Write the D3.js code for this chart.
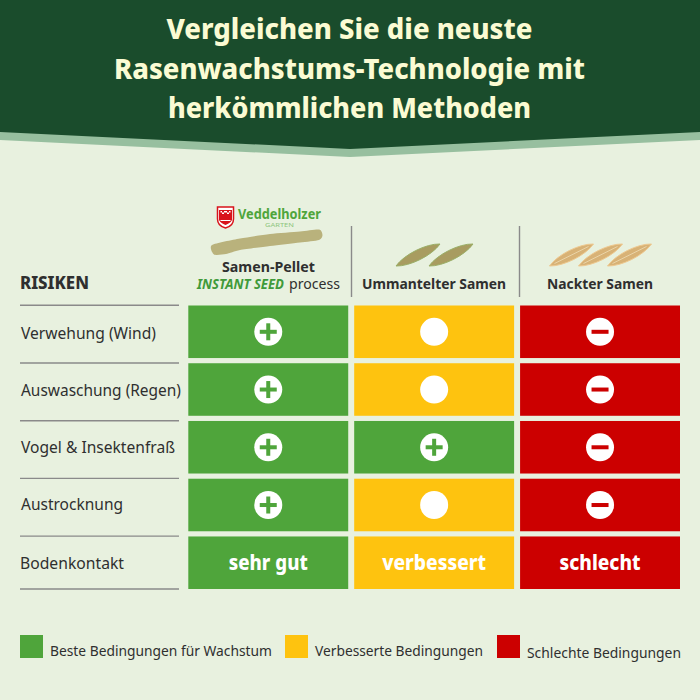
<!DOCTYPE html>
<html lang="de">
<head>
    <meta charset="UTF-8">
    <title>Rasenwachstum Vergleich</title>
    <script src="https://d3js.org/d3.v7.min.js"></script>
    <style>
        html, body { margin: 0; padding: 0; background: #e8f1df; }
        svg { display: block; }
        text { font-family: "Noto Sans", "Open Sans", sans-serif; fill: #2f2f2f; }
    </style>
</head>
<body>
<script>
    // Daten
    var titleLines = ['Vergleichen Sie die neuste', 'Rasenwachstums-Technologie mit', 'herkömmlichen Methoden'];
    var risks = ['Verwehung (Wind)', 'Auswaschung (Regen)', 'Vogel & Insektenfraß', 'Austrocknung', 'Bodenkontakt'];
    var methods = ['Samen-Pellet', 'Ummantelter Samen', 'Nackter Samen'];
    // 2 = beste, 1 = verbessert, 0 = schlecht
    var pelletScores = [2, 2, 2, 2, 2];
    var coatedScores = [1, 1, 2, 1, 1];
    var nakedScores = [0, 0, 0, 0, 0];
    var contactLabels = ['sehr gut', 'verbessert', 'schlecht'];
    var legendLabels = ['Beste Bedingungen für Wachstum', 'Verbesserte Bedingungen', 'Schlechte Bedingungen'];

    var width = 700, height = 700;
    var colors = d3.scaleOrdinal().domain([2, 1, 0]).range(['#4fa53b', '#fec30f', '#cc0000']);

    var svg = d3.select('body').append('svg').attr('width', width).attr('height', height);
    svg.append('rect').attr('width', width).attr('height', height).attr('fill', '#e8f1df');

    // Text auf eine feste Breite bringen
    function put(parent, str, x, y, size, w, opts) {
        opts = opts || {};
        var t = parent.append('text')
            .attr('x', x).attr('y', y)
            .attr('font-size', size)
            .attr('font-weight', opts.weight || 400)
            .attr('font-style', opts.style || 'normal')
            .attr('text-anchor', opts.anchor || 'start')
            .style('fill', opts.fill || '#2f2f2f')
            .text(str);
        if (w) t.attr('textLength', w).attr('lengthAdjust', 'spacingAndGlyphs');
        return t;
    }

    // Kopfbereich
    var band = d3.line();
    svg.append('path').attr('fill', '#97bf9f')
        .attr('d', band([[0, 130], [350, 147], [700, 130], [700, 140], [350, 157], [0, 140]]) + 'Z');
    svg.append('path').attr('fill', '#1a4c2c')
        .attr('d', band([[0, 0], [700, 0], [700, 132], [350, 149], [0, 132]]) + 'Z');
    var titleWidths = [366, 471, 363];
    titleLines.forEach(function (d, i) {
        put(svg, d, 349.5, 39 + i * 39.5, 28, titleWidths[i], {weight: 800, anchor: 'middle', fill: '#fbfbd3'});
    });

    // Raster
    var x = d3.scaleBand().domain(methods).range([188.3, 680]).paddingInner(0.036);
    var y = d3.scaleBand().domain(risks).range([305.5, 589]).paddingInner(0.09);

    var scoreTable = [pelletScores, coatedScores, nakedScores];
    var cells = [];
    methods.forEach(function (m, c) {
        risks.forEach(function (r, i) {
            cells.push({method: m, risk: r, score: scoreTable[c][i], col: c, row: i});
        });
    });

    svg.selectAll('rect.cell').data(cells).enter().append('rect')
        .attr('class', 'cell')
        .attr('x', d => x(d.method))
        .attr('y', d => y(d.risk))
        .attr('width', x.bandwidth())
        .attr('height', y.bandwidth())
        .attr('fill', d => colors(d.score));

    // Symbole in den ersten vier Zeilen
    var icons = svg.selectAll('g.icon').data(cells.filter(d => d.row < 4)).enter().append('g')
        .attr('class', 'icon')
        .attr('transform', d => 'translate(' + (x(d.method) + x.bandwidth() / 2) + ',' + (y(d.risk) + 26.3) + ')');
    icons.append('circle').attr('r', 14).attr('fill', '#fff');
    icons.filter(d => d.score !== 1).append('rect')
        .attr('x', -8.5).attr('y', -2).attr('width', 17).attr('height', 4)
        .attr('fill', d => colors(d.score));
    icons.filter(d => d.score === 2).append('rect')
        .attr('x', -2).attr('y', -8.5).attr('width', 4).attr('height', 17)
        .attr('fill', d => colors(d.score));

    // Letzte Zeile
    var contactWidths = [79, 104, 81];
    contactLabels.forEach(function (d, i) {
        put(svg, d, x(methods[i]) + x.bandwidth() / 2, y(risks[4]) + 34, 22, contactWidths[i],
            {weight: 800, anchor: 'middle', fill: '#fff'});
    });

    // Linke Spalte
    var riskWidths = [135, 160, 154, 102, 104];
    var riskShift = [33, 33, 32.5, 31.5, 32.5];
    risks.forEach(function (d, i) {
        put(svg, d, i === 4 ? 20 : 21, y(d) + riskShift[i], 16, riskWidths[i]);
    });
    var ruleYs = risks.map(d => y(d) - 0.3).concat([y(risks[4]) + y.bandwidth()]);
    svg.selectAll('line.rule').data(ruleYs).enter().append('line')
        .attr('class', 'rule')
        .attr('x1', 20).attr('x2', 179)
        .attr('y1', d => d).attr('y2', d => d)
        .attr('stroke', '#8a8a8a').attr('stroke-width', 1.4);
    put(svg, 'RISIKEN', 20, 289, 18, 69, {weight: 800});

    // Spaltentrenner
    [351.5, 519.5].forEach(function (d) {
        svg.append('line').attr('x1', d).attr('x2', d).attr('y1', 226).attr('y2', 297)
            .attr('stroke', '#8a8a8a').attr('stroke-width', 1.4);
    });

    // Spaltenköpfe
    put(svg, 'Samen-Pellet', 268.5, 272, 15, 93, {weight: 700, anchor: 'middle'});
    put(svg, 'INSTANT SEED', 197, 289, 15, 87, {weight: 700, style: 'italic', fill: '#3f9a3a'});
    put(svg, 'process', 289, 289, 15, 51);
    put(svg, 'Ummantelter Samen', 434, 288.5, 15, 144, {weight: 700, anchor: 'middle'});
    put(svg, 'Nackter Samen', 600, 288.5, 15, 106, {weight: 700, anchor: 'middle'});

    // Logo
    var shield = svg.append('g').attr('transform', 'translate(225.5,206)');
    shield.append('path').attr('fill', '#fff').attr('stroke', '#d8131b').attr('stroke-width', 1.5)
        .attr('d', 'M-8,1H8V13C8,18 4,21 0,22C-4,21 -8,18 -8,13Z');
    shield.append('path').attr('fill', '#d8131b')
        .attr('d', 'M-6.5,4H6.5V14C5,17 2,18 0,19C-2,18 -5,17 -6.5,14Z');
    shield.append('path').attr('fill', '#fff')
        .attr('d', 'M-5,5H-3.5V8H-1.5V5H1.5V8H3.5V5H5V6.5H-5ZM-5,14H5V15H-5Z');
    put(svg, 'Veddelholzer', 238, 218.5, 14, 83, {weight: 700, fill: '#4fa53b'});
    put(svg, 'GARTEN', 265, 226.5, 6, 29, {fill: '#8fc67e'});

    // Pellet
    var pellet = d3.line().curve(d3.curveCardinalClosed.tension(0.3));
    svg.append('path').attr('fill', '#b9b27c')
        .attr('d', pellet([[212, 245], [240, 238.5], [270, 234], [300, 231.5], [319, 229.5], [322.5, 235], [319, 240],
            [300, 242.5], [270, 246], [240, 250], [226, 254], [214, 254.5]]));

    // Samenkörner
    function seed(x0, y0, x1, y1, fill, edge, mid) {
        var dx = x1 - x0, dy = y1 - y0;
        var nx = dy * 0.135, ny = -dx * 0.135;
        function side(s) {
            return 'C' + (x0 + dx * 0.25 + s * nx) + ',' + (y0 + dy * 0.25 + s * ny) + ' ' +
                (x0 + dx * 0.75 + s * nx) + ',' + (y0 + dy * 0.75 + s * ny) + ' ' + x1 + ',' + y1;
        }
        // zweite Seite rückwärts
        var back = 'C' + (x0 + dx * 0.75 - nx) + ',' + (y0 + dy * 0.75 - ny) + ' ' +
            (x0 + dx * 0.25 - nx) + ',' + (y0 + dy * 0.25 - ny) + ' ' + x0 + ',' + y0;
        svg.append('path').attr('fill', fill).attr('stroke', edge).attr('stroke-width', 1)
            .attr('d', 'M' + x0 + ',' + y0 + side(1) + back + 'Z');
        if (mid) {
            svg.append('line').attr('x1', x0 + 5).attr('y1', y0 - 2.5).attr('x2', x1 - 5).attr('y2', y1 + 2.5)
                .attr('stroke', mid).attr('stroke-width', 0.8);
        }
    }
    [396, 429].forEach(function (s) {
        seed(s, 266, s + 44, 244, '#a89c60', '#9aae66', null);
    });
    [549.5, 578.5, 607.5].forEach(function (s) {
        seed(s, 266, s + 44, 244, '#d8b276', '#eec990', '#efdcb4');
    });

    // Legende
    var legendX = [20, 285, 497], legendTextX = [50, 315, 527], legendTextW = [222, 168, 154], legendBase = [656, 656, 657.5];
    var legendScores = [2, 1, 0];
    legendLabels.forEach(function (d, i) {
        svg.append('rect').attr('x', legendX[i]).attr('y', 635).attr('width', 23).attr('height', 23)
            .attr('fill', colors(legendScores[i]));
        put(svg, d, legendTextX[i], legendBase[i], 14.5, legendTextW[i]);
    });
</script>
</body>
</html>
